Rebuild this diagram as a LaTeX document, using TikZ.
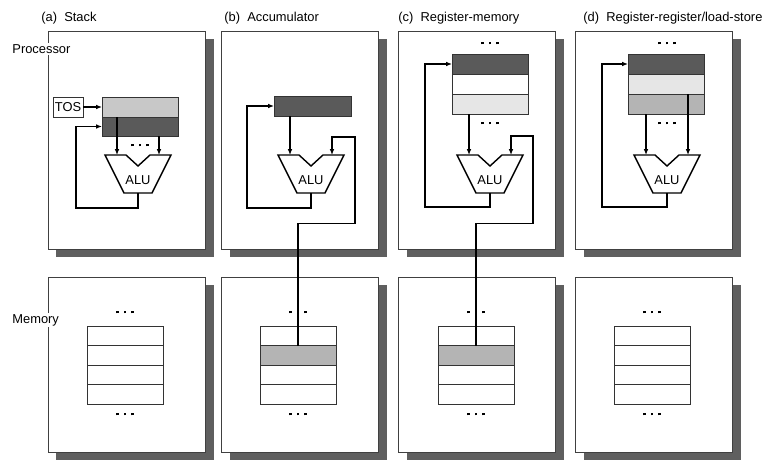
\documentclass[tikz,border=0pt]{standalone}
\usepackage{fontspec}
\setmainfont{Liberation Sans}
\usepackage{tikz}
\usetikzlibrary{positioning}
\usetikzlibrary{arrows.meta}
\usetikzlibrary{shadows}
\definecolor{shadowgray}{HTML}{5F5F5F}
\definecolor{darkreg}{HTML}{5A5A5A}
\definecolor{midreg}{HTML}{B4B4B4}
\definecolor{lightreg}{HTML}{C8C8C8}
\definecolor{palereg}{HTML}{E6E6E6}
\tikzset{
	panel/.style={
		draw=black!75,
		line width=0.6pt,
		fill=white,
		minimum width=4.71cm,
		inner sep=0pt, outer sep=0pt,
		drop shadow={shadow xshift=0.24cm, shadow yshift=-0.24cm, fill=shadowgray, opacity=1}},
	reg/.style={
		draw=black!80,
		line width=0.6pt,
		minimum width=2.28cm, minimum height=0.6cm,
		inner sep=0pt, outer sep=0pt,
		font=\fontsize{11}{12}\selectfont},
	cell/.style={reg, fill=white, minimum height=0.585cm},
	conn/.style={line width=1.2pt, -{Latex[length=5pt,width=4pt]}},
	aluline/.style={line width=1.2pt},
	alutag/.style={font=\fontsize{11}{12}\selectfont, inner sep=0pt},
	tag/.style={font=\fontsize{11}{13}\selectfont, inner sep=1pt, anchor=west},
	dotrow/.style={inner sep=0pt}
}
\newcommand{\threedots}{\rule{2.4pt}{2.4pt}\hspace{4.2pt}\rule{2.4pt}{2.4pt}\hspace{4.2pt}\rule{2.4pt}{2.4pt}}
\newcommand{\drawalu}[2]{%
	\node[alutag] (#1) at (#2) {ALU};
	\draw[aluline] ([shift={(-33,-25)}]#1.center) -- ++(21,0) -- ++(12,11) -- ++(12,-11)
		-- ++(21,0) -- ++(-19,38) -- ++(-28,0) -- cycle;
	\coordinate (#1-in1) at ([shift={(-21,-25)}]#1.center);
	\coordinate (#1-in2) at ([shift={(21,-25)}]#1.center);
	\coordinate (#1-out) at ([shift={(0,13)}]#1.center);
}

\begin{document}
\begin{tikzpicture}[x=0.03cm, y=-0.03cm]
	\useasboundingbox (0,0) rectangle (764,469);
	\node[panel, minimum height=6.54cm] (procA) at (127,140) {};
	\node[panel, minimum height=6.54cm] (procB) at (300,140) {};
	\node[panel, minimum height=6.54cm] (procC) at (477,140) {};
	\node[panel, minimum height=6.54cm] (procD) at (654,140) {};
	\node[panel, minimum height=5.25cm] (memA) at (127,364.5) {};
	\node[panel, minimum height=5.25cm] (memB) at (300,364.5) {};
	\node[panel, minimum height=5.25cm] (memC) at (477,364.5) {};
	\node[panel, minimum height=5.25cm] (memD) at (654,364.5) {};

	\node[tag] (titleA) at (40,18) {(a)\ \ Stack};
	\node[tag] (titleB) at (223,18) {(b)\ \ Accumulator};
	\node[tag] (titleC) at (397,18) {(c)\ \ Register-memory};
	\node[tag] (titleD) at (582,18) {(d)\ \ Register-register/load-store};
	\node[tag, fill=white] (procLabel) at (11,49) {Processor};
	\node[tag, fill=white] (memLabel) at (11,320) {Memory};

	% stack
	\node[reg, fill=white, minimum width=0.9cm] (tos) at (68,107) {TOS};
	\node[reg, fill=lightreg] (stkA1) at (140,107) {};
	\node[reg, fill=darkreg, minimum height=0.57cm, below=0pt of stkA1] (stkA2) {};
	\node[dotrow] (dotsA) at (140,145) {\threedots};
	\drawalu{aluA}{138,180}
	\draw[conn] (tos) -- (stkA1);
	\draw[conn] (stkA2.north -| aluA-in1) -- (aluA-in1);
	\draw[conn] (stkA2.south -| aluA-in2) -- (aluA-in2);
	\draw[conn] (aluA-out) -- ++(0,15) -- ++(-62,0) |- (stkA2.west);

	% accumulator
	\node[reg, fill=darkreg, minimum width=2.31cm] (acc) at (312.5,106) {};
	\drawalu{aluB}{311,180}
	\draw[conn] (acc.south -| aluB-in1) -- (aluB-in1);
	\draw[conn] (aluB-out) -- ++(0,15) -- ++(-64,0) |- (acc.west);

	% register-memory
	\node[dotrow] (dotsCtop) at (490,43) {\threedots};
	\node[reg, fill=darkreg] (regC1) at (490,64) {};
	\node[reg, fill=white, below=0pt of regC1] (regC2) {};
	\node[reg, fill=palereg, below=0pt of regC2] (regC3) {};
	\node[dotrow] (dotsC) at (490,123) {\threedots};
	\drawalu{aluC}{490,180}
	\draw[conn] (regC3.south -| aluC-in1) -- (aluC-in1);
	\draw[conn] (aluC-out) -- ++(0,14) -- ++(-65,0) |- (regC1.west);

	% load-store
	\node[dotrow] (dotsDtop) at (667,43) {\threedots};
	\node[reg, fill=darkreg] (regD1) at (666,64) {};
	\node[reg, fill=palereg, below=0pt of regD1] (regD2) {};
	\node[reg, fill=midreg, below=0pt of regD2] (regD3) {};
	\node[dotrow] (dotsD) at (667,123) {\threedots};
	\drawalu{aluD}{667,180}
	\draw[conn] (regD3.south -| aluD-in1) -- (aluD-in1);
	\draw[conn] (regD3.north -| aluD-in2) -- (aluD-in2);
	\draw[conn] (aluD-out) -- ++(0,14) -- ++(-65,0) |- (regD1.west);

	% memory
	\node[dotrow] (dotsMA1) at (125,312) {\threedots};
	\node[cell] (memA1) at (125,335.75) {};
	\node[cell, below=0pt of memA1] (memA2) {};
	\node[cell, below=0pt of memA2] (memA3) {};
	\node[cell, below=0pt of memA3] (memA4) {};
	\node[dotrow] (dotsMA2) at (125,414) {\threedots};

	\node[dotrow] (dotsMB1) at (298,312) {\threedots};
	\node[cell] (memB1) at (298,335.75) {};
	\node[cell, fill=midreg, below=0pt of memB1] (memB2) {};
	\node[cell, below=0pt of memB2] (memB3) {};
	\node[cell, below=0pt of memB3] (memB4) {};
	\node[dotrow] (dotsMB2) at (298,414) {\threedots};

	\node[dotrow] (dotsMC1) at (476,312) {\threedots};
	\node[cell] (memC1) at (476,335.75) {};
	\node[cell, fill=midreg, below=0pt of memC1] (memC2) {};
	\node[cell, below=0pt of memC2] (memC3) {};
	\node[cell, below=0pt of memC3] (memC4) {};
	\node[dotrow] (dotsMC2) at (476,414) {\threedots};

	\node[dotrow] (dotsMD1) at (652,312) {\threedots};
	\node[cell] (memD1) at (652,335.75) {};
	\node[cell, below=0pt of memD1] (memD2) {};
	\node[cell, below=0pt of memD2] (memD3) {};
	\node[cell, below=0pt of memD3] (memD4) {};
	\node[dotrow] (dotsMD2) at (652,414) {\threedots};

	\draw[conn] (memB2.north) -- ++(0,-122) -- ++(57,0) |- ([shift={(0,-18)}]aluB-in2) -- (aluB-in2);
	\draw[conn] (memC2.north) -- ++(0,-122) -- ++(57,0) |- ([shift={(0,-19)}]aluC-in2) -- (aluC-in2);
\end{tikzpicture}
\end{document}
